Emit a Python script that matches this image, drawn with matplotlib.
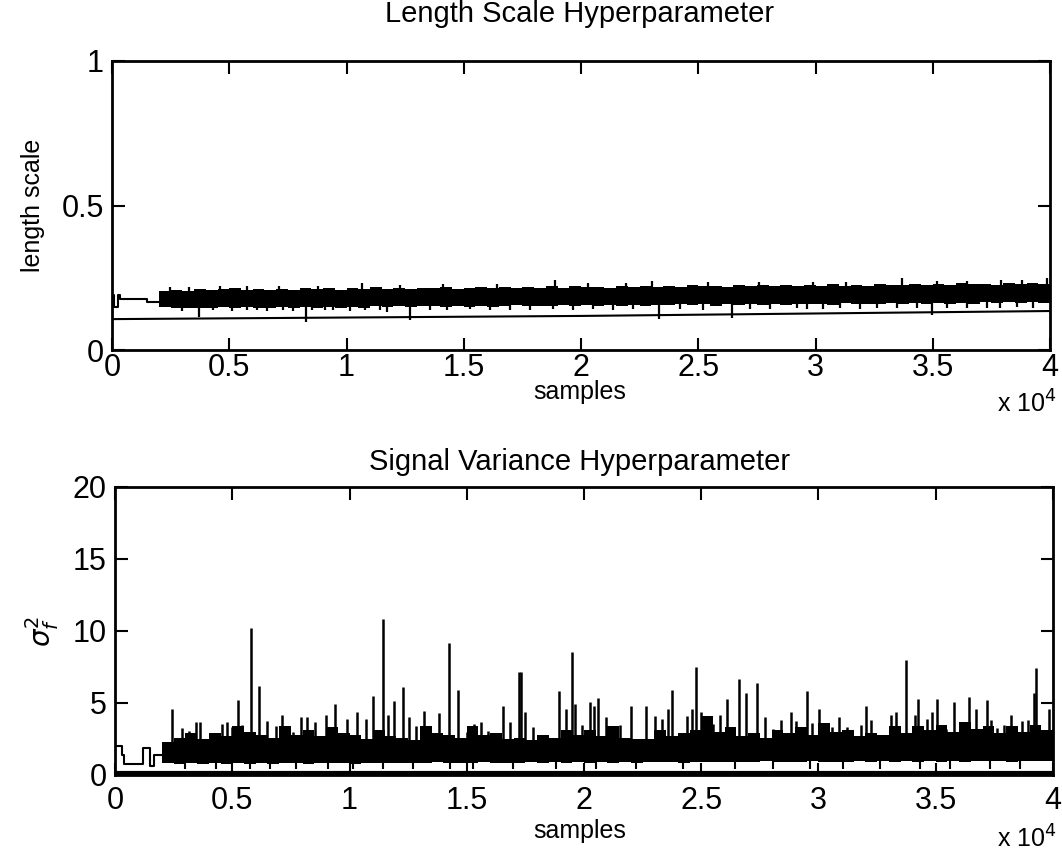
import matplotlib
matplotlib.use("Agg")
import matplotlib.pyplot as plt
import numpy as np

plt.rcParams['font.family'] = ['Liberation Sans', 'DejaVu Sans']

# ---------------- Top panel: length scale ----------------
ls_init_x = [0, 100, 260, 340, 1490, 1960]
ls_init_y = [0.19, 0.15, 0.19, 0.176, 0.167, 0.167]

ls_ref_x = [0, 20000, 40000]
ls_ref_y = [0.107, 0.118, 0.135]

grid_x = [2000 + 500 * i for i in range(77)]
ls_hi = [0.203, 0.209, 0.205, 0.211, 0.207, 0.21, 0.214, 0.208, 0.211, 0.206,
         0.212, 0.209, 0.214, 0.21, 0.213, 0.207, 0.215, 0.211, 0.217, 0.212,
         0.214, 0.21, 0.216, 0.213, 0.218, 0.212, 0.215, 0.219, 0.214, 0.217,
         0.213, 0.218, 0.216, 0.22, 0.215, 0.222, 0.217, 0.219, 0.216, 0.221,
         0.218, 0.223, 0.219, 0.221, 0.217, 0.224, 0.22, 0.222, 0.219, 0.225,
         0.221, 0.224, 0.22, 0.226, 0.222, 0.224, 0.22, 0.227, 0.223, 0.225,
         0.222, 0.228, 0.224, 0.226, 0.23, 0.225, 0.228, 0.226, 0.231, 0.227,
         0.229, 0.226, 0.232, 0.228, 0.231, 0.228, 0.232]
ls_lo = [0.148, 0.145, 0.147, 0.144, 0.146, 0.148, 0.145, 0.148, 0.144, 0.147,
         0.149, 0.146, 0.149, 0.147, 0.15, 0.147, 0.15, 0.146, 0.151, 0.148,
         0.151, 0.148, 0.151, 0.153, 0.149, 0.152, 0.15, 0.153, 0.15, 0.152,
         0.155, 0.151, 0.154, 0.152, 0.156, 0.153, 0.155, 0.152, 0.157, 0.154,
         0.156, 0.153, 0.157, 0.155, 0.159, 0.156, 0.158, 0.154, 0.159, 0.156,
         0.16, 0.157, 0.159, 0.156, 0.161, 0.158, 0.16, 0.157, 0.162, 0.159,
         0.161, 0.158, 0.163, 0.16, 0.162, 0.159, 0.164, 0.161, 0.163, 0.161,
         0.165, 0.162, 0.166, 0.163, 0.165, 0.163, 0.167]
ls_up_x = [2470, 5740, 10650, 18890, 23010, 33670, 36440, 39860,
           3300, 4600, 7100, 8800, 12300, 14100, 16400, 20300, 21900, 25400,
           27600, 29900, 31300, 35200, 37900, 38800]
ls_up_y = [0.217, 0.222, 0.232, 0.242, 0.24, 0.248, 0.238, 0.25,
           0.218, 0.22, 0.222, 0.221, 0.226, 0.227, 0.228, 0.231, 0.232, 0.235,
           0.234, 0.236, 0.235, 0.239, 0.241, 0.243]
ls_dn_x = [3710, 8270, 11710, 12710, 23340, 26430, 34950,
           2970, 4322, 5104, 5744, 6170, 6597, 7308, 7734, 8516, 9085, 9440,
           10151, 10791, 11431, 13560, 14270, 15265, 16118, 16971, 17824, 18819,
           19672, 20525, 21378, 22231, 24221, 25216, 27207, 28060, 29196, 29622,
           30333, 31044, 31897, 32608, 33460, 34313, 35593, 36446, 37299, 37867,
           38578, 39289]
ls_dn_y = [0.115, 0.098, 0.13, 0.104, 0.106, 0.11, 0.12,
           0.136, 0.138, 0.134, 0.137, 0.139, 0.135, 0.138, 0.136, 0.139, 0.137, 0.138,
           0.136, 0.139, 0.137, 0.14, 0.138, 0.141, 0.139, 0.14, 0.138, 0.141,
           0.139, 0.142, 0.14, 0.141, 0.142, 0.14, 0.143, 0.141, 0.144, 0.142,
           0.143, 0.145, 0.143, 0.146, 0.144, 0.145, 0.146, 0.144, 0.147, 0.146,
           0.148, 0.147]

# ---------------- Bottom panel: signal variance ----------------
sv_init_x = [0, 300, 400, 1200, 1500, 1650, 2000]
sv_init_y = [2.0, 1.38, 0.76, 1.85, 0.6, 1.38, 1.38]
sv_ref_x = [0, 40000]
sv_ref_y = [0.15, 0.15]
sv_hi = [2.3, 2.6, 2.9, 2.5, 2.9, 2.7, 3.4, 3.0, 2.8, 2.6,
         3.4, 2.8, 3.1, 2.7, 3.3, 2.9, 2.8, 2.5, 3.15, 2.7,
         2.6, 2.4, 3.4, 2.9, 2.8, 2.6, 3.4, 2.8, 2.9, 2.5,
         2.6, 2.4, 2.8, 2.6, 3.15, 2.8, 3.15, 2.7, 3.4, 2.6,
         2.5, 2.5, 3.1, 2.7, 2.9, 3.1, 4.1, 3.0, 3.3, 2.7,
         2.9, 2.6, 3.1, 2.9, 3.3, 2.8, 3.6, 3.0, 3.15, 2.7,
         2.9, 2.8, 3.4, 2.9, 3.4, 3.1, 3.5, 3.0, 3.7, 3.2,
         3.4, 2.9, 3.4, 3.0, 3.5, 3.1, 3.6]
sv_lo = [0.8, 0.75, 0.82, 0.78, 0.8, 0.76, 0.83, 0.79, 0.82, 0.77,
         0.8, 0.84, 0.78, 0.82, 0.8, 0.85, 0.79, 0.83, 0.81, 0.86,
         0.8, 0.84, 0.82, 0.87, 0.81, 0.85, 0.83, 0.88, 0.82, 0.86,
         0.84, 0.89, 0.83, 0.87, 0.85, 0.9, 0.84, 0.88, 0.86, 0.91,
         0.85, 0.89, 0.87, 0.92, 0.86, 0.9, 0.88, 0.93, 0.87, 0.91,
         0.89, 0.94, 0.88, 0.92, 0.9, 0.95, 0.89, 0.93, 0.91, 0.96,
         0.9, 0.94, 0.92, 0.97, 0.91, 0.95, 0.93, 0.98, 0.92, 0.96,
         0.94, 0.99, 0.93, 0.97, 0.95, 1.0, 0.96]
sv_spike_x = [2418, 2844, 3170, 3450, 3620, 4120, 4550, 4760, 4976, 5260,
              5400, 5787, 6155, 6470, 6850, 7110, 7580, 7920, 8175, 8530,
              9000, 9380, 9880, 10300, 10690, 11020, 11420, 11630, 11910, 12270,
              12540, 12820, 13190, 13650, 13830, 14260, 14610, 15000, 15320, 15610,
              15920, 16530, 16840, 17230, 17300, 17480, 17840, 18190, 18930, 19220,
              19470, 19620, 19930, 20260, 20430, 20610, 20940, 21540, 21990, 22650,
              23030, 23310, 23600, 23770, 24400, 24590, 24780, 24970, 25200, 25510,
              25800, 26090, 26370, 26620, 26900, 27360, 27720, 28050, 28400, 28830,
              29040, 29490, 29710, 30010, 30590, 30890, 31200, 31800, 32010, 32240,
              33090, 33290, 33730, 34120, 34230, 34610, 34860, 35040, 35420, 35790,
              36030, 36420, 36700, 37170, 37350, 37600, 37920, 38210, 38660, 38950,
              39180, 39260, 39830]
sv_spike_y = [4.57, 3.25, 3.07, 3.67, 3.67, 2.77, 3.53, 3.69, 3.3, 5.2,
              3.5, 10.2, 6.2, 3.76, 3.4, 4.2, 3.0, 4.06, 4.06, 3.67,
              4.2, 4.96, 3.9, 4.38, 3.9, 5.5, 10.8, 4.2, 5.14, 6.1,
              4.0, 3.37, 4.45, 2.77, 4.27, 9.18, 5.9, 3.0, 3.53, 3.69,
              3.07, 4.8, 3.69, 7.15, 7.15, 4.34, 3.3, 2.8, 5.83, 4.6,
              8.53, 4.9, 3.46, 5.07, 4.8, 5.38, 4.06, 3.46, 4.8, 4.8,
              4.1, 3.9, 4.57, 5.9, 4.1, 4.57, 7.52, 4.38, 3.37, 3.53,
              4.15, 5.3, 3.3, 6.69, 5.67, 6.41, 4.06, 3.2, 3.83, 4.34,
              3.76, 5.83, 3.6, 4.57, 3.3, 4.06, 3.3, 3.46, 4.8, 3.83,
              4.2, 4.38, 7.96, 4.15, 5.3, 3.9, 4.38, 5.26, 3.2, 5.07,
              3.67, 5.45, 4.6, 5.2, 3.83, 3.25, 3.46, 4.15, 3.76, 3.8,
              5.7, 7.45, 4.6]
sv_dn_x = [2970, 4322, 5744, 6597, 7734, 9085, 10151, 11431, 12706, 14270,
           15265, 16971, 18819, 20525, 22231, 24221, 26425, 28060, 29622, 31044,
           32608, 34313, 35593, 37299, 38578]
sv_dn_y = [0.45, 0.4, 0.45, 0.4, 0.45, 0.4, 0.45, 0.4, 0.45, 0.4,
           0.45, 0.4, 0.45, 0.4, 0.45, 0.4, 0.45, 0.4, 0.45, 0.4,
           0.45, 0.4, 0.45, 0.4, 0.45]

xticks = [0, 5000, 10000, 15000, 20000, 25000, 30000, 35000, 40000]
xtick_labels = ['0', '0.5', '1', '1.5', '2', '2.5', '3', '3.5', '4']

fig = plt.figure(figsize=(10.62, 8.59), dpi=100)
ax1 = fig.add_axes([0.1055, 0.5925, 0.8832, 0.3365])
ax2 = fig.add_axes([0.1083, 0.0978, 0.8832, 0.3353])

TICKFS = 22
LABFS = 18
TITFS = 21
H = 859.0


def style(ax, xpad, samples_y, x10_y):
    ax.set_xlim(0, 40000)
    ax.set_xticks(xticks)
    ax.set_xticklabels(xtick_labels)
    ax.tick_params(direction='in', length=9, width=1.5, top=True, right=True,
                   labelsize=TICKFS, colors='black')
    ax.tick_params(axis='x', pad=xpad)
    ax.tick_params(axis='y', pad=6)
    for s in ax.spines.values():
        s.set_linewidth(2)
    fig.text(0.546, 1 - samples_y / H, 'samples', ha='center', va='center',
             fontsize=LABFS)
    fig.text(0.995, 1 - x10_y / H, r'x 10$^4$', ha='right', va='center',
             fontsize=LABFS)


def idx(x):
    return int((x - 2000) // 500)


# top
ax1.plot(ls_ref_x, ls_ref_y, color='black', lw=1.5)
ax1.step(ls_init_x, ls_init_y, where='post', color='black', lw=1.5)
ax1.fill_between(grid_x, ls_lo, ls_hi, step='post', color='black', lw=0)
ax1.vlines(ls_up_x, [ls_hi[idx(x)] - 0.01 for x in ls_up_x],
           ls_up_y, color='black', lw=1.6)
ax1.vlines(ls_dn_x, ls_dn_y, [ls_lo[idx(x)] + 0.01 for x in ls_dn_x],
           color='black', lw=1.6)
ax1.set_ylim(0, 1)
ax1.set_yticks([0, 0.5, 1])
ax1.set_yticklabels(['0', '0.5', '1'])
ax1.set_ylabel('length scale', fontsize=LABFS, labelpad=12)
fig.text(0.546, 1 - 14 / H, 'Length Scale Hyperparameter', ha='center',
         va='center', fontsize=TITFS)
style(ax1, 2, 392, 404)

# bottom
ax2.plot(sv_ref_x, sv_ref_y, color='black', lw=3)
ax2.step(sv_init_x, sv_init_y, where='post', color='black', lw=1.5)
ax2.fill_between(grid_x, sv_lo, sv_hi, step='post', color='black', lw=0)
ax2.vlines(sv_spike_x, 1.5, sv_spike_y, color='black', lw=1.8)
ax2.vlines(sv_dn_x, sv_dn_y, 1.2, color='black', lw=1.5)
ax2.set_ylim(0, 20)
ax2.set_yticks([0, 5, 10, 15, 20])
ax2.set_ylabel(r'$\sigma_f^2$', fontsize=LABFS + 2, labelpad=8)
fig.text(0.546, 1 - 462 / H, 'Signal Variance Hyperparameter', ha='center',
         va='center', fontsize=TITFS)
style(ax2, 8, 831, 839)

fig.savefig('out.png', dpi=100)
